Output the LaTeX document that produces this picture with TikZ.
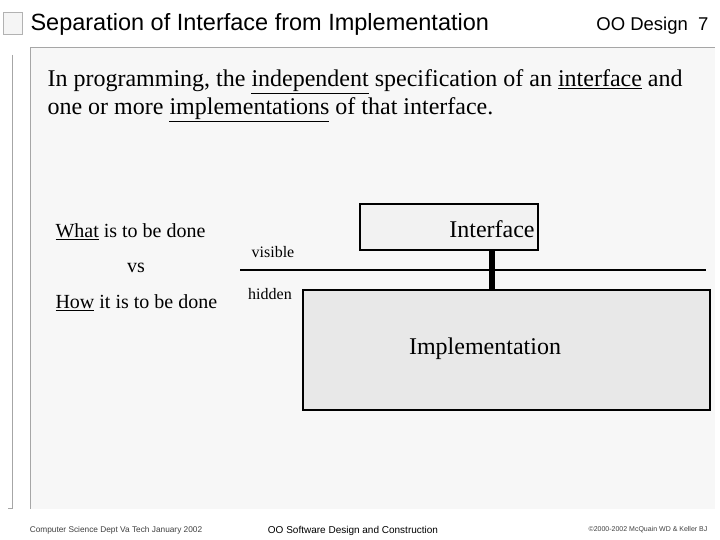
\documentclass[tikz,border=0pt]{standalone}
\usepackage{fontspec}
\setmainfont{Liberation Serif}
\newfontfamily\ar{Liberation Sans}
\begin{document}
\begin{tikzpicture}[x=1pt,y=-1pt,
 box/.style={draw=black,line width=1.2pt,inner sep=0pt},
 body/.style={font=\fontsize{24}{28}\selectfont,anchor=west,align=left}]
\useasboundingbox[fill=white] (0,0) rectangle (720,540);
\fill[gray!6] (30,48) rectangle (715,509);
\draw[gray!70,line width=1pt] (30,48) -- (715,48);
\draw[gray!70,line width=1pt] (30,48) -- (30,509);
\draw[gray!70,line width=0.8pt] (12,55) -- (12,508) -- (8,508);
\draw[gray!60,fill=gray!8] (3,12) rectangle (22,34);
\node[font=\ar\fontsize{23.5}{27}\selectfont,anchor=west] (title) at (27,24) {Separation of Interface from Implementation};
\node[font=\ar\fontsize{18.5}{22}\selectfont,anchor=east] (oo) at (712,26) {OO Design\ \ 7};
\node[body] (intro) at (44,96) {In programming, the \underline{independent} specification of an \underline{interface} and\\one or more \underline{implementations} of that interface.};
\node[font=\fontsize{20}{24}\selectfont,anchor=west] (what) at (52,232) {\underline{What} is to be done};
\node[font=\fontsize{20}{24}\selectfont] (vs) at (136,268) {vs};
\node[font=\fontsize{20}{24}\selectfont,anchor=west] (how) at (52,303) {\underline{How} it is to be done};
\node[box,fill=gray!10,minimum width=178pt,minimum height=46pt] (iface) at (449,227) {};
\node[font=\fontsize{24}{28}\selectfont] (ifacetxt) at (492,229) {Interface};
\node[box,fill=gray!18,minimum width=407pt,minimum height=120pt] (impl) at (506.5,350) {};
\node[font=\fontsize{24}{28}\selectfont] (impltxt) at (485,349) {Implementation};
\coordinate (l1) at (240,270);
\coordinate (l2) at (706,270);
\draw[line width=1.5pt] (l1) -- (l2);
\draw[line width=6pt] (iface.south -| 492,0) -- (impl.north -| 492,0);
\node[font=\fontsize{16}{19}\selectfont] (vis) at (273,252) {visible};
\node[font=\fontsize{16}{19}\selectfont] (hid) at (270,294) {hidden};
\node[font=\ar\fontsize{8.3}{9}\selectfont,gray!50!black] (f1) at (116,530) {Computer Science Dept Va Tech January 2002};
\node[font=\ar\fontsize{10}{12}\selectfont] (f2) at (353,531) {OO Software Design and Construction};
\node[font=\ar\fontsize{7}{9}\selectfont,gray!50!black] (f3) at (648,530) {\textcopyright 2000-2002 McQuain WD \& Keller BJ};
\end{tikzpicture}
\end{document}
